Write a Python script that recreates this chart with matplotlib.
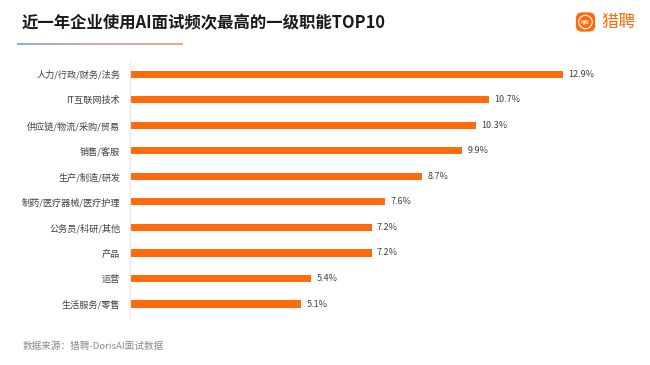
import numpy as np
import matplotlib
matplotlib.use("Agg")
import matplotlib.pyplot as plt
from matplotlib.patches import FancyBboxPatch

plt.rcParams['font.family'] = ['Noto Sans CJK SC', 'DejaVu Sans']

# data
categories = ["人力/行政/财务/法务", "IT互联网技术", "供应链/物流/采购/贸易", "销售/客服",
              "生产/制造/研发", "制药/医疗器械/医疗护理", "公务员/科研/其他", "产品",
              "运营", "生活服务/零售"]
values = [12.9, 10.7, 10.3, 9.9, 8.7, 7.6, 7.2, 7.2, 5.4, 5.1]
title = "近一年企业使用AI面试频次最高的一级职能TOP10"
source = "数据来源：猎聘-DorisAI面试数据"

orange = "#FF6A0D"

fig = plt.figure(figsize=(6.5, 3.65), dpi=100)
ax = fig.add_axes([0.2, 0.132, 0.775, 0.70])

y = np.arange(len(categories))
ax.barh(y, values, height=0.28, color=orange)
for yi, v in zip(y, values):
    ax.text(v + 0.15, yi, f"{v}%", va="center", ha="left", fontsize=6.5, color="#404040")

ax.set_xlim(0, 15)
ax.set_ylim(len(categories) - 0.5, -0.5)
ax.set_yticks(y)
ax.set_yticklabels(categories, fontsize=6.6, color="#404040")
ax.tick_params(axis="y", length=0, pad=7)
ax.set_xticks([])
for s in ["top", "right", "bottom"]:
    ax.spines[s].set_visible(False)
ax.spines["left"].set_color("#e6e6e6")
ax.spines["left"].set_linewidth(0.8)

# title
fig.text(22 / 650, 1 - 23.5 / 365, title, fontsize=11.8, fontweight="bold",
         color="#1a1a1a", va="center", ha="left")

# gradient underline
gax = fig.add_axes([17 / 650, 1 - 45 / 365, 166 / 650, 2 / 365])
grad = np.linspace(0, 1, 256).reshape(1, -1)
cmap = matplotlib.colors.LinearSegmentedColormap.from_list(
    "g", ["#8fb0d8", "#d8a8b8", "#f2a878"])
gax.imshow(grad, aspect="auto", cmap=cmap)
gax.axis("off")

# logo
lax = fig.add_axes([575 / 650, 1 - 32.5 / 365, 21 / 650, 21 / 365])
lax.add_patch(FancyBboxPatch((0.04, 0.04), 0.92, 0.92,
                             boxstyle="round,pad=0,rounding_size=0.3",
                             facecolor=orange, edgecolor="none"))
lax.add_patch(plt.Circle((0.5, 0.5), 0.32, facecolor="none", edgecolor="white", lw=0.8))
lax.text(0.5, 0.5, "猎聘", fontsize=3.2, color="white", ha="center", va="center")
lax.set_xlim(0, 1)
lax.set_ylim(0, 1)
lax.axis("off")
fig.text(601 / 650, 1 - 22.5 / 365, "猎聘", fontsize=12.3, color=orange,
         va="center", ha="left")

# source
fig.text(23 / 650, 1 - 346 / 365, source, fontsize=6.9, color="#8a8a8a",
         va="center", ha="left")

fig.savefig("out.png", dpi=100, facecolor="white")
